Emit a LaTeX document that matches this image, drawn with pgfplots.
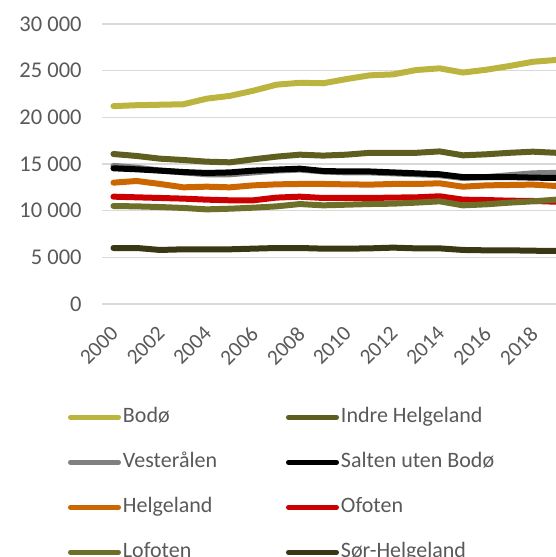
\documentclass[border=0pt]{standalone}
\usepackage{fontspec}
\setmainfont{Carlito}
\usepackage{pgfplots}
\pgfplotsset{compat=1.18}
\usepackage{pgfplotstable}
\definecolor{tc}{RGB}{89,89,89}
\definecolor{gridc}{RGB}{217,217,217}
\definecolor{cBodo}{RGB}{187,181,64}
\definecolor{cIndre}{RGB}{94,94,32}
\definecolor{cVest}{RGB}{128,128,128}
\definecolor{cSalten}{RGB}{0,0,0}
\definecolor{cHelg}{RGB}{204,102,0}
\definecolor{cOfot}{RGB}{204,0,0}
\definecolor{cLof}{RGB}{110,112,42}
\definecolor{cSor}{RGB}{58,56,20}

\pgfplotstableread{
year Bodo Indre Vest Salten Helg Ofot Lof Sor
2000 21200 16070 14800 14540 13000 11500 10500 6000
2001 21300 15860 14600 14430 13180 11430 10460 6000
2002 21350 15570 14300 14290 12860 11360 10390 5790
2003 21400 15430 14100 14140 12500 11290 10290 5860
2004 22000 15250 13900 14040 12570 11180 10140 5860
2005 22300 15180 13900 14100 12500 11110 10210 5860
2006 22850 15500 14100 14290 12710 11110 10320 5930
2007 23500 15790 14300 14400 12820 11400 10460 6000
2008 23700 16000 14400 14500 12860 11500 10710 6000
2009 23650 15900 14200 14250 12860 11360 10570 5930
2010 24100 16000 14100 14200 12820 11360 10640 5930
2011 24500 16200 14100 14200 12790 11360 10710 5960
2012 24600 16200 14000 14100 12860 11400 10750 6040
2013 25070 16200 13900 14000 12860 11430 10860 5960
2014 25250 16350 13800 13900 12930 11540 11000 5960
2015 24800 15930 13500 13600 12570 11180 10570 5790
2016 25100 16040 13600 13600 12710 11140 10680 5750
2017 25500 16200 13800 13600 12750 11070 10860 5750
2018 25950 16320 14000 13540 12790 11040 11000 5710
2019 26150 16200 14050 13500 12640 10960 11180 5680
}\datatable

\begin{document}
\begin{tikzpicture}
\begin{axis}[
  name=ax,
  scale only axis,
  width=466pt, height=280pt,
  xmin=1999.5, xmax=2019.5,
  ymin=0, ymax=30000,
  scaled y ticks=false,
  axis line style={draw=none},
  major tick length=0pt,
  ymajorgrids,
  grid style={gridc, line width=1.2pt},
  ytick={0,5000,10000,15000,20000,25000,30000},
  yticklabels={0,5 000,10 000,15 000,20 000,25 000,30 000},
  yticklabel style={font=\fontsize{22.5}{27}\selectfont, text=tc, inner sep=0pt, xshift=-20pt},
  xtick={2000,2002,...,2018},
  xticklabels={2000,2002,2004,2006,2008,2010,2012,2014,2016,2018},
  xticklabel style={font=\fontsize{21.5}{26}\selectfont, text=tc, xshift=-4pt, yshift=-21pt, rotate=45, anchor=north east, inner sep=0pt},
  every axis plot/.append style={line width=6pt, line cap=round, line join=round},
  legend image code/.code={\draw[#1,line width=5pt,line cap=round] (2.5pt,0pt) -- (50.5pt,0pt);},
  legend columns=2,
  legend cell align=left,
  legend style={draw=none, fill=none, at={(rel axis cs:0,0)}, anchor=north west,
    xshift=-34pt, yshift=-103pt, inner sep=0pt, row sep=25pt,
    font=\fontsize{22}{26}\selectfont, text=tc,
    nodes={inner xsep=2pt, inner ysep=0pt, text height=15pt, text depth=5pt}},
]
\addplot[cBodo] table[x=year,y=Bodo]{\datatable};
\addlegendentry{\makebox[161pt][l]{Bodø}}
\addplot[cIndre] table[x=year,y=Indre]{\datatable};
\addlegendentry{Indre Helgeland}
\addplot[cVest] table[x=year,y=Vest]{\datatable};
\addlegendentry{\makebox[161pt][l]{Vesterålen}}
\addplot[cSalten] table[x=year,y=Salten]{\datatable};
\addlegendentry{Salten uten Bodø}
\addplot[cHelg] table[x=year,y=Helg]{\datatable};
\addlegendentry{\makebox[161pt][l]{Helgeland}}
\addplot[cOfot] table[x=year,y=Ofot]{\datatable};
\addlegendentry{Ofoten}
\addplot[cLof] table[x=year,y=Lof]{\datatable};
\addlegendentry{\makebox[161pt][l]{Lofoten}}
\addplot[cSor] table[x=year,y=Sor]{\datatable};
\addlegendentry{Sør-Helgeland}
\end{axis}
\pgfresetboundingbox
\path[use as bounding box] ([shift={(-101.8pt,24pt)}]ax.north west) rectangle ([shift={(454.2pt,-533pt)}]ax.north west);
\end{tikzpicture}
\end{document}
